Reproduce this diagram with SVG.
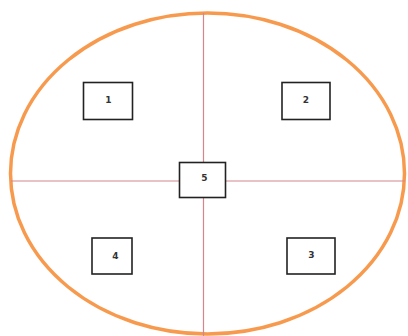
<svg xmlns="http://www.w3.org/2000/svg" width="408" height="336" viewBox="0 0 408 336">
<style>
.box{fill:#fff;stroke:#222;stroke-width:1.6}
.lbl{font-family:"DejaVu Sans",sans-serif;font-size:9px;font-weight:bold;fill:#333;text-anchor:middle;dominant-baseline:central}
.ax{stroke:#D4868C;stroke-width:1.2;fill:none}
</style>
<rect width="408" height="336" fill="#fff"/>
<ellipse id="circle" cx="207.5" cy="173.5" rx="197" ry="160.5" fill="none" stroke="#F79A4E" stroke-width="3.5"/>
<g id="connectors">
<line class="ax" x1="203.5" y1="13" x2="203.5" y2="336"/>
<line class="ax" x1="11" y1="181" x2="405" y2="181"/>
</g>
<g id="n1"><rect class="box" x="83.5" y="82.5" width="49" height="37"/><text class="lbl" x="108.5" y="99.5">1</text></g>
<g id="n2"><rect class="box" x="282" y="82.5" width="48" height="37"/><text class="lbl" x="306" y="99.5">2</text></g>
<g id="n3"><rect class="box" x="287" y="238" width="48" height="36"/><text class="lbl" x="311.5" y="255">3</text></g>
<g id="n4"><rect class="box" x="92" y="238" width="40" height="36"/><text class="lbl" x="115.5" y="256">4</text></g>
<g id="n5"><rect class="box" x="179.5" y="162.5" width="46" height="35"/><text class="lbl" x="204.5" y="178">5</text></g>
</svg>
